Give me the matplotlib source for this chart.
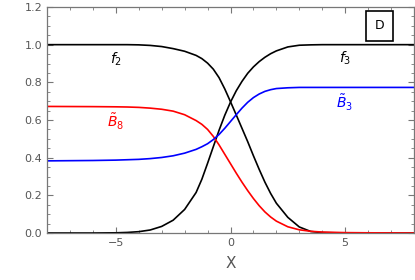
import matplotlib
matplotlib.use('Agg')
import matplotlib.pyplot as plt
from matplotlib.ticker import MultipleLocator

x = [-8, -6, -5, -4.5, -4, -3.5, -3, -2.5, -2, -1.5, -1.25, -1, -0.75, -0.5, -0.25,
     0, 0.25, 0.5, 0.75, 1, 1.25, 1.5, 1.75, 2, 2.5, 3, 3.5, 4, 5, 6, 8]
f2 = [1.0, 1.0, 1.0, 1.0, 0.999, 0.996, 0.99, 0.979, 0.965, 0.943, 0.926, 0.902, 0.87, 0.825, 0.765,
      0.697, 0.627, 0.556, 0.485, 0.41, 0.338, 0.27, 0.21, 0.158, 0.083, 0.032, 0.008, 0.002, 0.0, 0.0, 0.0]
f3 = [0.0, 0.0, 0.001, 0.003, 0.007, 0.016, 0.035, 0.068, 0.125, 0.215, 0.285, 0.37, 0.458, 0.545, 0.625,
      0.695, 0.755, 0.805, 0.848, 0.882, 0.91, 0.933, 0.952, 0.967, 0.988, 0.997, 0.999, 1.0, 1.0, 1.0, 1.0]
b8 = [0.672, 0.671, 0.670, 0.669, 0.667, 0.663, 0.657, 0.647, 0.628, 0.597, 0.577, 0.55, 0.513, 0.468, 0.418,
      0.368, 0.318, 0.27, 0.225, 0.183, 0.145, 0.112, 0.085, 0.063, 0.033, 0.017, 0.009, 0.005, 0.002, 0.001, 0.0]
b3 = [0.383, 0.385, 0.387, 0.389, 0.391, 0.395, 0.401, 0.41, 0.424, 0.444, 0.458, 0.474, 0.496, 0.523, 0.556,
      0.592, 0.628, 0.663, 0.694, 0.719, 0.738, 0.752, 0.761, 0.767, 0.771, 0.773, 0.773, 0.773, 0.773, 0.773, 0.773]

gray = '#777777'

fig = plt.figure(figsize=(4.15, 2.8), dpi=100)
ax = fig.add_axes([47 / 415, 1 - 233 / 280, 367 / 415, 226 / 280])

ax.plot(x, f2, color='black', lw=1.2)
ax.plot(x, f3, color='black', lw=1.2)
ax.plot(x, b8, color='#ff0000', lw=1.2)
ax.plot(x, b3, color='#0000ff', lw=1.2)

ax.text(-5.0, 0.92, r'$f_2$', color='black', fontsize=10, ha='center', va='center')
ax.text(5.0, 0.93, r'$f_3$', color='black', fontsize=10, ha='center', va='center')
ax.text(-5.0, 0.59, r'$\tilde{B}_8$', color='#ff0000', fontsize=10, ha='center', va='center')
ax.text(4.97, 0.69, r'$\tilde{B}_3$', color='#0000ff', fontsize=10, ha='center', va='center')
ax.text(6.49, 1.10, 'D', fontsize=9, ha='center', va='center',
        bbox=dict(boxstyle='square,pad=0.7', fc='white', ec='black', lw=1.2))

ax.set_xlim(-8, 8)
ax.set_ylim(0, 1.2)
ax.xaxis.set_major_locator(MultipleLocator(5))
ax.xaxis.set_minor_locator(MultipleLocator(1))
ax.yaxis.set_major_locator(MultipleLocator(0.2))
ax.yaxis.set_minor_locator(MultipleLocator(0.05))
ax.yaxis.set_major_formatter(plt.FuncFormatter(lambda v, p: f'{v:.1f}'))
ax.xaxis.set_major_formatter(plt.FuncFormatter(lambda v, p: f'{v:.0f}'.replace('-', '\u2212')))
ax.tick_params(which='both', direction='in', top=True, right=True, color=gray,
               labelcolor='#555555', labelsize=8)
ax.tick_params(which='major', length=4, width=0.8)
ax.tick_params(which='minor', length=2.5, width=0.6)
for s in ax.spines.values():
    s.set_color(gray)
    s.set_linewidth(0.9)
ax.set_xlabel('X', color='#555555', fontsize=11, labelpad=6)

fig.savefig('out.png', dpi=100)
